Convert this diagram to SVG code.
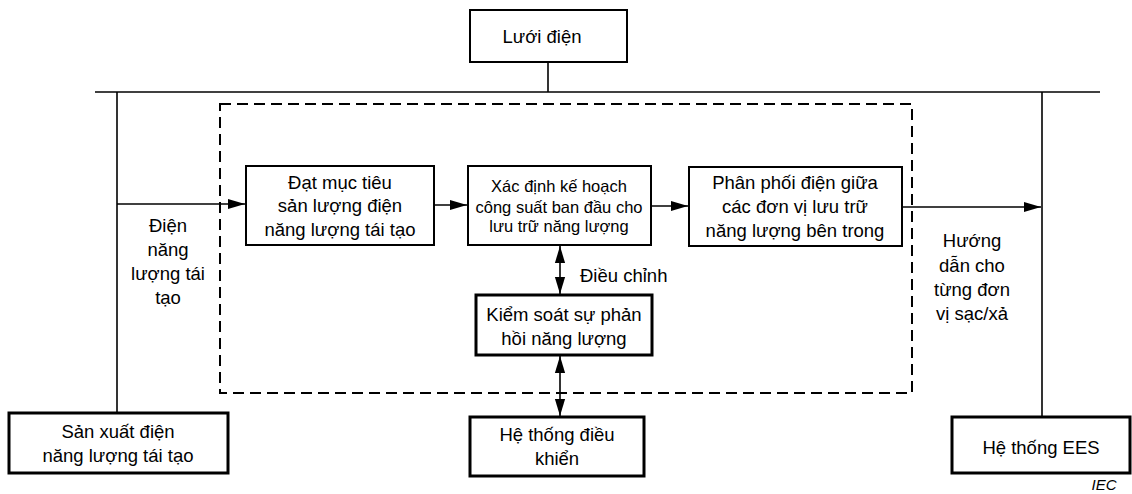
<svg xmlns="http://www.w3.org/2000/svg" width="1132" height="494" viewBox="0 0 1132 494">
  <style>
    .box { fill: #fff; stroke: #000; stroke-width: 2; }
    .thick { stroke-width: 3; }
    .line { fill: none; stroke: #000; stroke-width: 1.6; }
    .dash { fill: none; stroke: #000; stroke-width: 2; stroke-dasharray: 11 6; }
    text { font-family: "Liberation Sans", Arial, sans-serif; font-size: 18.5px; fill: #000; text-anchor: middle; }
    .sm { font-size: 16.5px; }
    .iec { font-size: 15px; font-style: italic; }
  </style>
  <defs>
    <marker id="arr" viewBox="0 0 10 10" refX="10" refY="5" markerWidth="17" markerHeight="17" markerUnits="userSpaceOnUse" orient="auto-start-reverse">
      <path d="M0,2 L10,5 L0,8 Z" fill="#000"/>
    </marker>
  </defs>

  <!-- boundary of the storage controller -->
  <rect class="dash" x="220" y="104" width="692" height="289"/>

  <g id="connectors">
    <!-- grid bus -->
    <line class="line" x1="95" y1="92" x2="1100" y2="92"/>
    <line class="line" x1="548" y1="62" x2="548" y2="92"/>
    <line class="line" x1="117" y1="92" x2="117" y2="413"/>
    <line class="line" x1="1042" y1="92" x2="1042" y2="416"/>
    <!-- main flow -->
    <line class="line" x1="117" y1="204" x2="245" y2="204" marker-end="url(#arr)"/>
    <line class="line" x1="434" y1="205" x2="467" y2="205" marker-end="url(#arr)"/>
    <line class="line" x1="651" y1="206" x2="688" y2="206" marker-end="url(#arr)"/>
    <line class="line" x1="902" y1="207" x2="1041" y2="207" marker-end="url(#arr)"/>
    <!-- feedback links -->
    <line class="line" x1="560" y1="246" x2="560" y2="294" marker-start="url(#arr)" marker-end="url(#arr)"/>
    <line class="line" x1="560" y1="356" x2="560" y2="416" marker-start="url(#arr)" marker-end="url(#arr)"/>
  </g>

  <g id="grid">
    <rect class="box" x="470" y="10" width="157" height="52"/>
    <text x="542" y="43">Lưới điện</text>
  </g>

  <g id="renewable-gen">
    <rect class="box thick" x="9" y="413" width="219" height="60"/>
    <text x="118" y="438">Sản xuất điện</text>
    <text x="118" y="462">năng lượng tái tạo</text>
  </g>

  <g id="target-output">
    <rect class="box" x="246" y="166" width="188" height="79"/>
    <text x="340" y="189">Đạt mục tiêu</text>
    <text x="340" y="212">sản lượng điện</text>
    <text x="340" y="236">năng lượng tái tạo</text>
  </g>

  <g id="initial-plan">
    <rect class="box" x="468" y="166" width="183" height="79"/>
    <text class="sm" x="559" y="192">Xác định kế hoạch</text>
    <text class="sm" x="559" y="213">công suất ban đầu cho</text>
    <text class="sm" x="559" y="232">lưu trữ năng lượng</text>
  </g>

  <g id="distribution">
    <rect class="box" x="689" y="167" width="213" height="79"/>
    <text x="795" y="189">Phân phối điện giữa</text>
    <text x="795" y="213">các đơn vị lưu trữ</text>
    <text x="795" y="237">năng lượng bên trong</text>
  </g>

  <g id="feedback-control">
    <rect class="box thick" x="476" y="295" width="176" height="60"/>
    <text x="564" y="321">Kiểm soát sự phản</text>
    <text x="564" y="345">hồi năng lượng</text>
  </g>

  <g id="control-system">
    <rect class="box thick" x="470" y="417" width="174" height="59"/>
    <text x="557" y="441">Hệ thống điều</text>
    <text x="557" y="465">khiển</text>
  </g>

  <g id="ees">
    <rect class="box thick" x="952" y="417" width="178" height="56"/>
    <text x="1041" y="454">Hệ thống EES</text>
  </g>

  <g id="labels">
    <text x="168" y="232">Điện</text>
    <text x="168" y="256">năng</text>
    <text x="168" y="280">lượng tái</text>
    <text x="168" y="304">tạo</text>
    <text x="972" y="247">Hướng</text>
    <text x="972" y="272">dẫn cho</text>
    <text x="972" y="296">từng đơn</text>
    <text x="972" y="320">vị sạc/xả</text>
    <text x="580" y="282" style="text-anchor:start">Điều chỉnh</text>
    <text class="iec" x="1104" y="490">IEC</text>
  </g>
</svg>
